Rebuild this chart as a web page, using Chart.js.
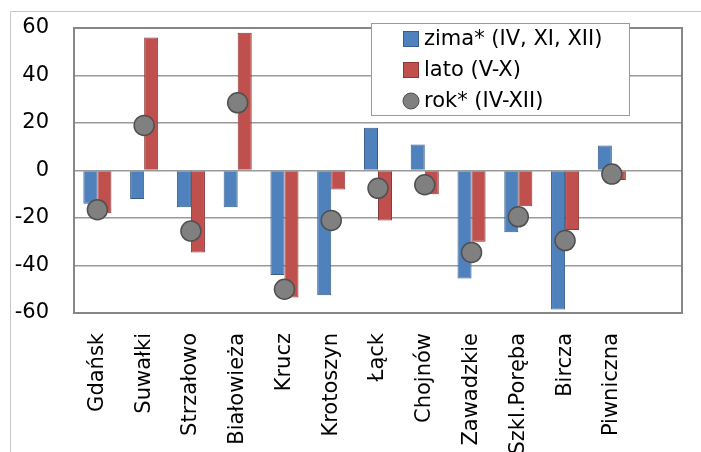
<!DOCTYPE html>
<html>
<head>
<meta charset="utf-8">
<script src="https://cdn.jsdelivr.net/npm/chart.js@4/dist/chart.umd.min.js"></script>
<style>
  html, body { margin: 0; padding: 0; background: #ffffff; }
  #wrap { position: relative; width: 701px; height: 452px; }
  canvas { display: block; }
</style>
</head>
<body>
<div id="wrap"><canvas id="chart" width="701" height="452"></canvas></div>
<script>
// Stations (the last slot is an empty category, as in the source sheet)
const categories = ['Gdańsk', 'Suwałki', 'Strzałowo', 'Białowieża', 'Krucz', 'Krotoszyn',
                    'Łąck', 'Chojnów', 'Zawadzkie', 'Szkl.Poręba', 'Bircza', 'Piwniczna', ''];

// Winter half-year (IV, XI, XII)
const zimaValues = [-14, -12, -15.5, -15.5, -44, -52.5, 18, 11, -45.5, -26, -58.5, 10.5, null];
// Summer half-year (V-X)
const latoValues = [-18, 56, -34.5, 58, -53.5, -8, -21, -10, -30, -15, -25, -4, null];
// Whole season (IV-XII)
const rokValues = [-16.5, 19, -25.5, 28.5, -50, -21, -7.5, -6, -34.5, -19.5, -29.5, -1.5, null];

const seriesLabels = ['zima* (IV, XI, XII)', 'lato (V-X)', 'rok* (IV-XII)'];
const yTicks = [-60, -40, -20, 0, 20, 40, 60];

const FONT = 'DejaVu Sans';

// Light outer frame and the dark plot-area border
const framePlugin = {
  id: 'frame',
  beforeDraw(chart) {
    const ctx = chart.ctx;
    ctx.save();
    ctx.strokeStyle = '#c6c6c6';
    ctx.lineWidth = 1;
    ctx.beginPath();
    ctx.moveTo(10.5, 452);
    ctx.lineTo(10.5, 11.5);
    ctx.lineTo(701, 11.5);
    ctx.stroke();
    ctx.restore();
  },
  beforeDatasetsDraw(chart) {
    const { ctx, chartArea: a } = chart;
    ctx.save();
    ctx.strokeStyle = '#868686';
    ctx.lineWidth = 2;
    ctx.strokeRect(a.left, a.top, a.right - a.left, a.bottom - a.top);
    ctx.restore();
  }
};

// Boxed legend sitting inside the plot area, top right
const boxLegendPlugin = {
  id: 'boxLegend',
  afterDraw(chart) {
    const ctx = chart.ctx;
    const bx = 371, by = 23, bw = 258, bh = 92;
    ctx.save();
    ctx.fillStyle = '#ffffff';
    ctx.fillRect(bx, by, bw, bh);
    ctx.strokeStyle = '#9a9a9a';
    ctx.lineWidth = 1;
    ctx.strokeRect(bx + 0.5, by + 0.5, bw, bh);
    ctx.font = '21px "' + FONT + '"';
    ctx.textBaseline = 'middle';
    ctx.textAlign = 'left';
    chart.data.datasets.forEach((ds, i) => {
      const cy = 39 + i * 31;
      ctx.fillStyle = ds.backgroundColor;
      ctx.strokeStyle = ds.borderColor;
      ctx.lineWidth = 1;
      if (ds.type === 'line') {
        ctx.beginPath();
        ctx.arc(411, cy, 8, 0, Math.PI * 2);
        ctx.fill();
        ctx.stroke();
      } else {
        ctx.fillRect(403, cy - 8, 16, 16);
        ctx.strokeRect(403.5, cy - 7.5, 15, 15);
      }
      ctx.fillStyle = '#000000';
      ctx.fillText(ds.label, 424, cy + 1);
    });
    ctx.restore();
  }
};

new Chart(document.getElementById('chart'), {
  data: {
    labels: categories,
    datasets: [
      {
        type: 'bar',
        label: seriesLabels[0],
        data: zimaValues,
        backgroundColor: '#4F81BD',
        borderColor: '#385D8A',
        borderWidth: 1,
        categoryPercentage: 0.6,
        barPercentage: 1.0,
        order: 2
      },
      {
        type: 'bar',
        label: seriesLabels[1],
        data: latoValues,
        backgroundColor: '#C0504D',
        borderColor: '#8C3836',
        borderWidth: 1,
        categoryPercentage: 0.6,
        barPercentage: 1.0,
        order: 2
      },
      {
        type: 'line',
        label: seriesLabels[2],
        data: rokValues,
        showLine: false,
        backgroundColor: '#808080',
        borderColor: '#505050',
        pointRadius: 10,
        pointBorderWidth: 1.5,
        pointBackgroundColor: '#808080',
        pointBorderColor: '#505050',
        order: 1
      }
    ]
  },
  options: {
    responsive: false,
    animation: false,
    devicePixelRatio: 1,
    layout: { padding: { left: 10, right: 19, top: 28, bottom: 0 } },
    plugins: {
      legend: { display: false },
      tooltip: { enabled: false }
    },
    scales: {
      x: {
        offset: true,
        grid: { display: false, drawTicks: false },
        border: { display: false },
        ticks: {
          autoSkip: false,
          maxRotation: 90,
          minRotation: 90,
          padding: 20,
          color: '#000000',
          font: { family: FONT, size: 21 }
        },
        afterFit(axis) {
          axis.height = 139;
          axis.paddingLeft = 0;
          axis.paddingRight = 0;
        }
      },
      y: {
        min: -60,
        max: 60,
        afterBuildTicks(axis) { axis.ticks = yTicks.map(v => ({ value: v })); },
        grid: { color: '#9a9a9a', lineWidth: 1.5, drawTicks: false },
        border: { display: false },
        ticks: {
          padding: 25,
          color: '#000000',
          font: { family: FONT, size: 21 }
        },
        afterFit(axis) {
          axis.width = 64;
          axis.paddingTop = 0;
          axis.paddingBottom = 0;
        }
      }
    }
  },
  plugins: [framePlugin, boxLegendPlugin]
});
</script>
</body>
</html>
